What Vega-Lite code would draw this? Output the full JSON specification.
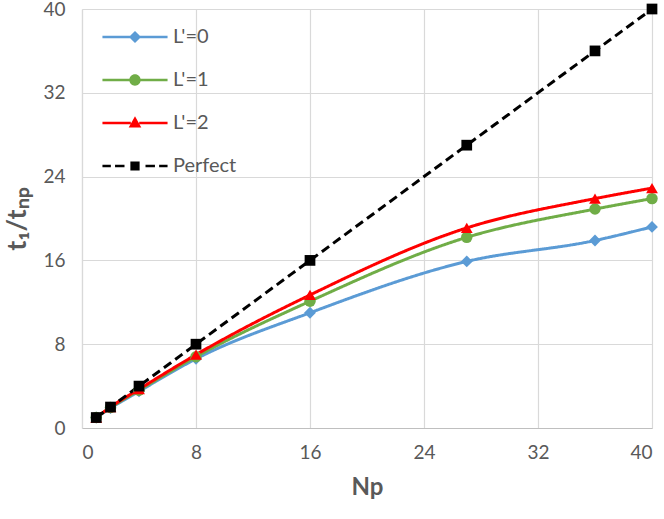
{
  "$schema": "https://vega.github.io/schema/vega-lite/v6.json",
  "autosize": "none",
  "width": 570,
  "height": 419,
  "padding": {"left": 82, "top": 9, "right": 12, "bottom": 91},
  "background": "white",
  "config": {
    "view": {"stroke": null},
    "font": "Lato",
    "axis": {
      "gridColor": "#d9d9d9",
      "gridWidth": 1.2,
      "ticks": false,
      "labelFont": "Lato",
      "labelFontSize": 19,
      "labelColor": "#595959",
      "titleFont": "Lato",
      "titleFontWeight": "bold",
      "titleColor": "#595959",
      "titleFontSize": 24
    }
  },
  "data": {
    "values": [
      {"series": "L'=0", "Np": 1, "v": 1.0},
      {"series": "L'=0", "Np": 2, "v": 1.9},
      {"series": "L'=0", "Np": 4, "v": 3.5},
      {"series": "L'=0", "Np": 8, "v": 6.6},
      {"series": "L'=0", "Np": 16, "v": 11.0},
      {"series": "L'=0", "Np": 27, "v": 15.9},
      {"series": "L'=0", "Np": 36, "v": 17.9},
      {"series": "L'=0", "Np": 40, "v": 19.2},
      {"series": "L'=1", "Np": 1, "v": 1.0},
      {"series": "L'=1", "Np": 2, "v": 1.95},
      {"series": "L'=1", "Np": 4, "v": 3.6},
      {"series": "L'=1", "Np": 8, "v": 6.8},
      {"series": "L'=1", "Np": 16, "v": 12.1},
      {"series": "L'=1", "Np": 27, "v": 18.2},
      {"series": "L'=1", "Np": 36, "v": 20.9},
      {"series": "L'=1", "Np": 40, "v": 21.9},
      {"series": "L'=2", "Np": 1, "v": 1.0},
      {"series": "L'=2", "Np": 2, "v": 2.0},
      {"series": "L'=2", "Np": 4, "v": 3.7},
      {"series": "L'=2", "Np": 8, "v": 7.0},
      {"series": "L'=2", "Np": 16, "v": 12.7},
      {"series": "L'=2", "Np": 27, "v": 19.1},
      {"series": "L'=2", "Np": 36, "v": 21.9},
      {"series": "L'=2", "Np": 40, "v": 22.9},
      {"series": "Perfect", "Np": 1, "v": 1},
      {"series": "Perfect", "Np": 2, "v": 2},
      {"series": "Perfect", "Np": 4, "v": 4},
      {"series": "Perfect", "Np": 8, "v": 8},
      {"series": "Perfect", "Np": 16, "v": 16},
      {"series": "Perfect", "Np": 27, "v": 27},
      {"series": "Perfect", "Np": 36, "v": 36},
      {"series": "Perfect", "Np": 40, "v": 40}
    ]
  },
  "encoding": {
    "x": {
      "field": "Np", "type": "quantitative",
      "scale": {"domain": [0, 40], "nice": false},
      "axis": {"values": [0, 8, 16, 24, 32, 40], "title": "Np", "labelPadding": 15, "titlePadding": 13, "domainColor": "#bfbfbf", "domainWidth": 1.2}
    },
    "y": {
      "field": "v", "type": "quantitative",
      "scale": {"domain": [0, 40], "nice": false},
      "axis": {"values": [0, 8, 16, 24, 32, 40], "title": "t₁/tₙₚ", "titleFontSize": 27, "labelPadding": 17, "titlePadding": 11, "domainColor": "#d9d9d9", "domainWidth": 1.2}
    }
  },
  "layer": [
    {
      "mark": {"type": "line", "interpolate": "monotone", "strokeWidth": 3},
      "encoding": {
        "color": {"field": "series", "type": "nominal", "scale": {"domain": ["L'=0", "L'=1", "L'=2", "Perfect"], "range": ["#5b9bd5", "#70ad47", "#ff0000", "#000000"]}},
        "strokeDash": {"field": "series", "type": "nominal", "scale": {"domain": ["L'=0", "L'=1", "L'=2", "Perfect"], "range": [[1, 0], [1, 0], [1, 0], [9, 5]]}, "legend": null}
      }
    },
    {
      "transform": [{"filter": "datum.series === \"L'=0\""}],
      "mark": {"type": "point", "filled": true, "shape": "diamond", "size": 140, "color": "#5b9bd5", "opacity": 1}
    },
    {
      "transform": [{"filter": "datum.series === \"L'=1\""}],
      "mark": {"type": "point", "filled": true, "shape": "circle", "size": 130, "color": "#70ad47", "opacity": 1}
    },
    {
      "transform": [{"filter": "datum.series === \"L'=2\""}],
      "mark": {"type": "point", "filled": true, "shape": "triangle-up", "size": 140, "color": "#ff0000", "opacity": 1}
    },
    {
      "transform": [{"filter": "datum.series === 'Perfect'"}],
      "mark": {"type": "point", "filled": true, "shape": "square", "size": 115, "color": "#000000", "opacity": 1}
    },
    {
      "transform": [{"filter": "datum.Np < 0"}],
      "mark": {"type": "point", "filled": true, "opacity": 1},
      "encoding": {
        "color": {"field": "series", "type": "nominal", "scale": {"domain": ["L'=0", "L'=1", "L'=2", "Perfect"], "range": ["#5b9bd5", "#70ad47", "#ff0000", "#000000"]},
          "legend": {
            "title": null, "orient": "none", "legendX": 32, "legendY": 7, "padding": 0,
            "symbolSize": 1764, "symbolStrokeWidth": 0, "symbolOpacity": 1,
            "labelOffset": 17, "labelFontSize": 20, "labelFont": "Lato", "labelColor": "#595959",
            "rowPadding": 12
          }
        },
        "shape": {"field": "series", "type": "nominal", "scale": {"domain": ["L'=0", "L'=1", "L'=2", "Perfect"], "range": [
          "M-1.55,-0.065H-0.2V0.065H-1.55Z M0.2,-0.065H1.55V0.065H0.2Z M0,-0.29L0.29,0L0,0.29L-0.29,0Z",
          "M-1.55,-0.065H-0.2V0.065H-1.55Z M0.2,-0.065H1.55V0.065H0.2Z M0.27,0A0.27,0.27 0 1 1 -0.27,0A0.27,0.27 0 1 1 0.27,0Z",
          "M-1.55,-0.065H-0.2V0.065H-1.55Z M0.2,-0.065H1.55V0.065H0.2Z M0,-0.32L0.3,0.22L-0.3,0.22Z",
          "M-1.55,-0.065H-1.15V0.065H-1.55Z M-0.95,-0.065H-0.5V0.065H-0.95Z M-0.22,-0.22H0.22V0.22H-0.22Z M0.5,-0.065H0.95V0.065H0.5Z M1.15,-0.065H1.55V0.065H1.15Z"
        ]},
          "legend": {
            "title": null, "orient": "none", "legendX": 32, "legendY": 7, "padding": 0,
            "symbolSize": 1764, "symbolStrokeWidth": 0, "symbolOpacity": 1,
            "labelOffset": 17, "labelFontSize": 20, "labelFont": "Lato", "labelColor": "#595959",
            "rowPadding": 12
          }
        }
      }
    }
  ]
}
